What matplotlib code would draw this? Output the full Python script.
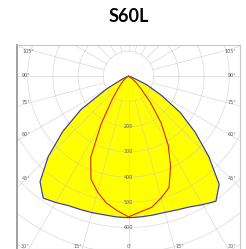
import numpy as np
import matplotlib.pyplot as plt

# angulos (grados desde la vertical hacia abajo) e intensidades
angulos = [-90, -85, -80, -75, -70, -65, -60, -55, -50, -45, -40, -35, -30, -25, -20, -15, -10, -5,
           0, 5, 10, 15, 20, 25, 30, 35, 40, 45, 50, 55, 60, 65, 70, 75, 80, 85, 90]
plano_c0 = [0, 2, 4, 6, 10, 30, 100, 230, 340, 450, 546, 590, 578, 566, 562, 560, 558, 560,
            561, 560, 559, 559, 564, 572, 588, 605, 560, 450, 345, 250, 150, 80, 25, 10, 5, 2, 0]
plano_c90 = [0, 0, 1, 2, 3, 5, 8, 14, 25, 40, 65, 115, 215, 355, 435, 475, 510, 534,
             558, 540, 528, 500, 470, 395, 315, 225, 135, 70, 40, 20, 8, 4, 2, 1, 0, 0, 0]
circulos = [100, 200, 300, 400, 500, 600, 700, 800]
etiquetas_r = [200, 300, 400, 500, 600]

def a_xy(ang, r):
    t = np.radians(np.array(ang, dtype=float))
    r = np.array(r, dtype=float)
    return r * np.sin(t), -r * np.cos(t)

W, H = 246, 249
fig = plt.figure(figsize=(W / 100, H / 100), dpi=100)
fig.text(129 / W, 1 - 17 / H, 'S60L', ha='center', va='center', fontsize=13,
         fontweight='bold', family='Lato')

# caja del diagrama en pixeles
x0, x1, y0, y1 = 17, 240, 45, 249
cx, cy, esc = 128.5, 76.3, 0.252
ax = fig.add_axes([x0 / W, 1 - y1 / H, (x1 - x0) / W, (y1 - y0) / H])
ax.set_xlim((x0 - cx) / esc, (x1 - cx) / esc)
ax.set_ylim(-(y1 - cy) / esc, (cy - y0) / esc)
ax.set_xticks([])
ax.set_yticks([])
for s in ax.spines.values():
    s.set_color('#c8c8c8')
    s.set_linewidth(0.8)
ax.spines['left'].set_color('#a0a0a0')
ax.spines['left'].set_linewidth(1.4)

# curvas
x, y = a_xy(angulos, plano_c0)
ax.fill(x, y, color='#ffff00', zorder=1)
ax.plot(x, y, color='#3030c8', lw=0.8, zorder=4)
x, y = a_xy(angulos, plano_c90)
ax.plot(x, y, color='#e02818', lw=0.8, zorder=4)

# rejilla polar
t = np.linspace(0, 2 * np.pi, 400)
for r in circulos:
    ax.plot(r * np.cos(t), r * np.sin(t), color='#c0c0c0', lw=0.5, alpha=0.6, zorder=2)
for a in range(0, 360, 15):
    xs, ys = a_xy([a, a], [100, 1200])
    ax.plot(xs, ys, color='#c0c0c0', lw=0.5, alpha=0.6, zorder=2)

for r in etiquetas_r:
    ax.text(0, -r, str(r), ha='center', va='center', fontsize=3.5, color='#606060', zorder=5)

# etiquetas de angulos
lado = [('105°', 52), ('90°', 76), ('75°', 103), ('60°', 134), ('45°', 178)]
for txt, py in lado:
    ax.text((22 - cx) / esc, (cy - py) / esc, txt, ha='left', va='center', fontsize=3.5, color='#606060')
    ax.text((236 - cx) / esc, (cy - py) / esc, txt, ha='right', va='center', fontsize=3.5, color='#606060')
abajo = [('30°', 25), ('15°', 78), ('0°', 129), ('15°', 180), ('30°', 232)]
for txt, px in abajo:
    ax.text((px - cx) / esc, (cy - 246) / esc, txt, ha='center', va='center', fontsize=3.5, color='#606060')

fig.savefig('out.png', dpi=100)
